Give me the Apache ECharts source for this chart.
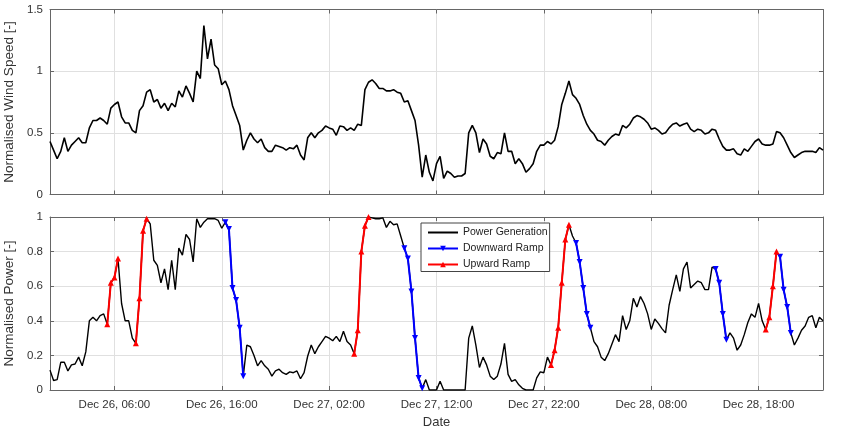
<!DOCTYPE html>
<html>
<head>
<meta charset="utf-8">
<script src="https://cdn.jsdelivr.net/npm/echarts@6/dist/echarts.min.js"></script>
<style>
html, body { margin: 0; padding: 0; background: #fff; }
#chart { width: 859px; height: 426px; }
</style>
</head>
<body>
<div id="chart"></div>
<script>
// one sample every 20 minutes, Dec 26 00:00 .. Dec 29 00:00
const stepHours = 1 / 3;
const tickHours = [6, 16, 26, 36, 46, 56, 66];

const windSpeed = [
  0.43, 0.36, 0.29, 0.35, 0.46, 0.35, 0.40, 0.43, 0.46, 0.42,
  0.42, 0.54, 0.60, 0.60, 0.62, 0.60, 0.57, 0.70, 0.73, 0.75,
  0.63, 0.58, 0.58, 0.52, 0.50, 0.68, 0.72, 0.83, 0.85, 0.75,
  0.77, 0.70, 0.74, 0.68, 0.74, 0.71, 0.84, 0.79, 0.88, 0.82,
  0.75, 1.00, 0.94, 1.37, 1.10, 1.26, 1.05, 1.02, 0.89, 0.92,
  0.85, 0.72, 0.64, 0.56, 0.36, 0.44, 0.50, 0.45, 0.42, 0.45,
  0.38, 0.35, 0.35, 0.40, 0.39, 0.38, 0.36, 0.38, 0.37, 0.40,
  0.32, 0.28, 0.46, 0.50, 0.46, 0.50, 0.52, 0.555, 0.54, 0.53,
  0.48, 0.555, 0.55, 0.52, 0.54, 0.52, 0.57, 0.56, 0.85, 0.91,
  0.93, 0.90, 0.86, 0.86, 0.84, 0.84, 0.85, 0.83, 0.82, 0.75,
  0.76, 0.68, 0.60, 0.40, 0.14, 0.32, 0.18, 0.11, 0.25, 0.31,
  0.13, 0.19, 0.17, 0.14, 0.15, 0.15, 0.17, 0.50, 0.56, 0.50,
  0.34, 0.45, 0.41, 0.31, 0.29, 0.34, 0.33, 0.50, 0.35, 0.35,
  0.25, 0.29, 0.25, 0.18, 0.21, 0.25, 0.35, 0.40, 0.40, 0.43,
  0.41, 0.44, 0.55, 0.73, 0.82, 0.92, 0.81, 0.78, 0.73, 0.64,
  0.57, 0.52, 0.49, 0.44, 0.43, 0.40, 0.44, 0.47, 0.49, 0.48,
  0.56, 0.54, 0.57, 0.62, 0.64, 0.63, 0.61, 0.58, 0.53, 0.54,
  0.52, 0.49, 0.50, 0.54, 0.57, 0.58, 0.555, 0.57, 0.58, 0.53,
  0.51, 0.53, 0.52, 0.49, 0.50, 0.53, 0.52, 0.45, 0.39, 0.36,
  0.36, 0.37, 0.33, 0.32, 0.37, 0.35, 0.39, 0.43, 0.45, 0.41,
  0.40, 0.40, 0.41, 0.51, 0.50, 0.46, 0.40, 0.34, 0.30, 0.32,
  0.34, 0.35, 0.35, 0.35, 0.34, 0.38, 0.36
];

const power = [
  0.115, 0.055, 0.06, 0.16, 0.16, 0.11, 0.145, 0.15, 0.19, 0.14,
  0.22, 0.40, 0.42, 0.40, 0.43, 0.44, 0.38, 0.62, 0.65, 0.76,
  0.50, 0.40, 0.40, 0.30, 0.27, 0.53, 0.92, 0.99, 0.96, 0.75,
  0.72, 0.62, 0.70, 0.58, 0.75, 0.58, 0.82, 0.78, 0.90, 0.87,
  0.74, 0.99, 0.94, 0.97, 0.99, 0.99, 0.99, 0.98, 0.935, 0.97,
  0.93, 0.59, 0.52, 0.36, 0.08, 0.26, 0.25, 0.20, 0.14, 0.17,
  0.14, 0.12, 0.08, 0.11, 0.12, 0.10, 0.09, 0.105, 0.10, 0.11,
  0.065, 0.10, 0.195, 0.26, 0.21, 0.25, 0.28, 0.31, 0.30, 0.285,
  0.31, 0.28, 0.34, 0.28, 0.26, 0.21, 0.345, 0.80, 0.95, 1.00,
  0.995, 0.99, 0.99, 0.995, 0.94, 0.975, 0.955, 0.96, 0.89, 0.82,
  0.76, 0.57, 0.30, 0.07, 0.01, 0.06, 0.00, 0.00, 0.00, 0.05,
  0.00, 0.00, 0.00, 0.00, 0.00, 0.00, 0.00, 0.30, 0.37, 0.26,
  0.13, 0.19, 0.145, 0.08, 0.06, 0.08, 0.15, 0.27, 0.09, 0.05,
  0.06, 0.03, 0.01, 0.00, 0.00, 0.00, 0.07, 0.105, 0.10, 0.19,
  0.145, 0.23, 0.36, 0.62, 0.87, 0.955, 0.89, 0.85, 0.74, 0.59,
  0.44, 0.36, 0.28, 0.25, 0.19, 0.17, 0.21, 0.265, 0.32, 0.28,
  0.43, 0.35, 0.40, 0.53, 0.48, 0.54, 0.50, 0.44, 0.35, 0.41,
  0.385, 0.355, 0.33, 0.49, 0.58, 0.665, 0.57, 0.70, 0.74, 0.59,
  0.61, 0.63, 0.62, 0.58, 0.58, 0.71, 0.70, 0.62, 0.44, 0.29,
  0.33, 0.30, 0.23, 0.26, 0.32, 0.39, 0.44, 0.42, 0.50, 0.40,
  0.35, 0.42, 0.60, 0.80, 0.77, 0.58, 0.48, 0.33, 0.26, 0.30,
  0.345, 0.37, 0.42, 0.43, 0.36, 0.42, 0.40
];

// [first, last] sample index of each detected ramp
const upRamps = [[16, 19], [24, 27], [85, 89], [140, 145], [200, 203]];
const downRamps = [[49, 54], [99, 104], [147, 151], [186, 189], [204, 207]];

const textColor = '#333';
const boxColor = '#666';
const gridColor = '#e0e0e0';
const font = 'Arial, "Liberation Sans", Helvetica, sans-serif';

function pairs(values) {
  return values.map(function (v, i) { return [i * stepHours, v]; });
}

function rampPairs(ranges) {
  return power.map(function (v, i) {
    const inside = ranges.some(function (r) { return i >= r[0] && i <= r[1]; });
    return [i * stepHours, inside ? v : '-'];
  });
}

function dateLabel(h) {
  const day = 26 + Math.floor(h / 24);
  const hh = h % 24;
  return 'Dec ' + day + ', ' + String(hh).padStart(2, '0') + ':00';
}

function timeAxis(gridIndex, position, main, withLabels) {
  return {
    type: 'value', gridIndex: gridIndex, position: position,
    min: 0, max: 72,
    axisLine: { show: true, onZero: false, lineStyle: { color: boxColor, width: 1 } },
    axisTick: { show: true, inside: true, length: 4, customValues: tickHours, lineStyle: { color: boxColor } },
    axisLabel: {
      show: withLabels, customValues: tickHours, formatter: dateLabel,
      color: textColor, fontSize: 11.5, fontFamily: font, margin: 9
    },
    splitLine: { show: main, lineStyle: { color: gridColor, width: 1 } },
    name: withLabels ? 'Date' : '', nameLocation: 'middle', nameGap: 26,
    nameTextStyle: { color: textColor, fontSize: 13, fontFamily: font }
  };
}

function valueAxis(gridIndex, position, max, interval, name) {
  return {
    type: 'value', gridIndex: gridIndex, position: position,
    min: 0, max: max, interval: interval,
    axisLine: { show: true, onZero: false, lineStyle: { color: boxColor, width: 1 } },
    axisTick: { show: true, inside: true, length: 4, lineStyle: { color: boxColor } },
    axisLabel: { show: !!name, color: textColor, fontSize: 11.5, fontFamily: font, margin: 7 },
    splitLine: { show: !!name, lineStyle: { color: gridColor, width: 1 } },
    name: name || '', nameLocation: 'middle', nameGap: 30,
    nameTextStyle: { color: textColor, fontSize: 13.5, fontFamily: font }
  };
}

const chart = echarts.init(document.getElementById('chart'));
chart.setOption({
  animation: false,
  backgroundColor: '#fff',
  grid: [
    { left: 50, right: 36, top: 9.5, height: 185, containLabel: false, outerBoundsMode: 'none' },
    { left: 50, right: 36, top: 217, height: 173, containLabel: false, outerBoundsMode: 'none' }
  ],
  xAxis: [
    timeAxis(0, 'bottom', true, false),
    timeAxis(1, 'bottom', true, true),
    timeAxis(0, 'top', false, false),
    timeAxis(1, 'top', false, false)
  ],
  yAxis: [
    valueAxis(0, 'left', 1.5, 0.5, 'Normalised Wind Speed [-]'),
    valueAxis(1, 'left', 1, 0.2, 'Normalised Power [-]'),
    valueAxis(0, 'right', 1.5, 0.5, null),
    valueAxis(1, 'right', 1, 0.2, null)
  ],
  legend: {
    left: 421, top: 223, orient: 'vertical',
    itemWidth: 30, itemHeight: 7, itemGap: 5,
    padding: [4, 2, 1.5, 6],
    borderColor: '#444', borderWidth: 1, backgroundColor: '#fff',
    textStyle: { color: '#222', fontSize: 10.5, fontFamily: font },
    data: [
      { name: 'Power Generation', itemStyle: { opacity: 0 } },
      'Downward Ramp',
      'Upward Ramp'
    ]
  },
  series: [
    {
      name: 'Wind Speed', type: 'line', xAxisIndex: 0, yAxisIndex: 0,
      data: pairs(windSpeed), showSymbol: false, symbol: 'none',
      lineStyle: { color: '#000', width: 1.6 }, itemStyle: { color: '#000' }
    },
    {
      name: 'Power Generation', type: 'line', xAxisIndex: 1, yAxisIndex: 1,
      data: pairs(power), showSymbol: false, symbol: 'none',
      lineStyle: { color: '#000', width: 1.4 }, itemStyle: { color: '#000' }
    },
    {
      name: 'Downward Ramp', type: 'line', xAxisIndex: 1, yAxisIndex: 1,
      data: rampPairs(downRamps), symbol: 'triangle', symbolSize: 6, symbolRotate: 180,
      lineStyle: { color: '#0000ff', width: 2 }, itemStyle: { color: '#0000ff' }, z: 3
    },
    {
      name: 'Upward Ramp', type: 'line', xAxisIndex: 1, yAxisIndex: 1,
      data: rampPairs(upRamps), symbol: 'triangle', symbolSize: 6,
      lineStyle: { color: '#ff0000', width: 2 }, itemStyle: { color: '#ff0000' }, z: 3
    }
  ]
});
</script>
</body>
</html>
